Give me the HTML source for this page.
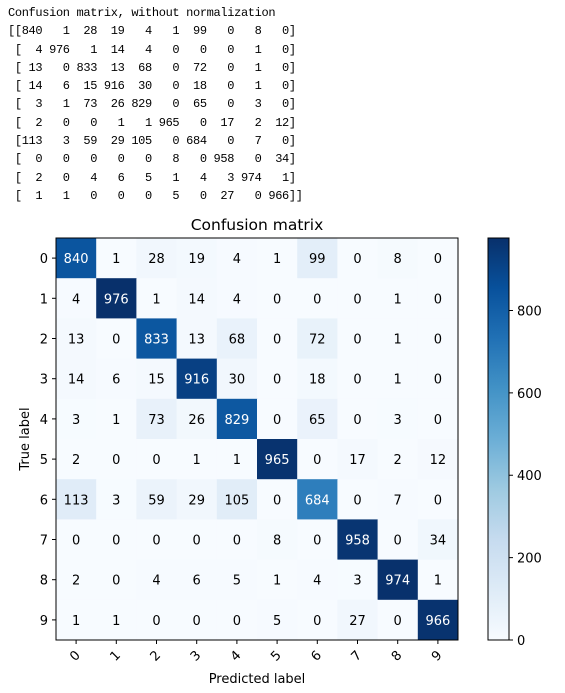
<!DOCTYPE html>
<html><head><meta charset="utf-8"><style>
body{margin:0;background:#fff;width:565px;height:693px;overflow:hidden;position:relative}
pre{position:absolute;left:8px;top:4px;margin:0;font-family:"Liberation Mono",monospace;font-size:12px;line-height:18.3px;letter-spacing:-0.35px;color:#000}
svg{position:absolute;left:0;top:0}
text{font-family:"DejaVu Sans",sans-serif}
</style></head><body>
<pre>Confusion matrix, without normalization
[[840   1  28  19   4   1  99   0   8   0]
 [  4 976   1  14   4   0   0   0   1   0]
 [ 13   0 833  13  68   0  72   0   1   0]
 [ 14   6  15 916  30   0  18   0   1   0]
 [  3   1  73  26 829   0  65   0   3   0]
 [  2   0   0   1   1 965   0  17   2  12]
 [113   3  59  29 105   0 684   0   7   0]
 [  0   0   0   0   0   8   0 958   0  34]
 [  2   0   4   6   5   1   4   3 974   1]
 [  1   1   0   0   0   5   0  27   0 966]]</pre>
<svg id="c" width="565" height="693"></svg>
<script>
const classes=["0","1","2","3","4","5","6","7","8","9"];
const matrix=[
[840,1,28,19,4,1,99,0,8,0],
[4,976,1,14,4,0,0,0,1,0],
[13,0,833,13,68,0,72,0,1,0],
[14,6,15,916,30,0,18,0,1,0],
[3,1,73,26,829,0,65,0,3,0],
[2,0,0,1,1,965,0,17,2,12],
[113,3,59,29,105,0,684,0,7,0],
[0,0,0,0,0,8,0,958,0,34],
[2,0,4,6,5,1,4,3,974,1],
[1,1,0,0,0,5,0,27,0,966]];
const cbTicks=[0,200,400,600,800];
const NS="http://www.w3.org/2000/svg";
const svg=document.getElementById('c');
const L=56,T=238,W=402,H=402;
const vmax=Math.max(...matrix.flat());
const blues=[[247,251,255],[222,235,247],[198,219,239],[158,202,225],[107,174,214],[66,146,198],[33,113,181],[8,81,156],[8,48,107]];
function cmap(v){let t=Math.max(0,Math.min(1,v/vmax))*8;let i=Math.min(7,Math.floor(t)),f=t-i;const a=blues[i],b=blues[i+1];return `rgb(${a.map((x,k)=>Math.round(x+(b[k]-x)*f)).join(',')})`;}
function mk(tag,attrs,txt){const e=document.createElementNS(NS,tag);for(const k in attrs)e.setAttribute(k,attrs[k]);if(txt!==undefined)e.textContent=txt;svg.appendChild(e);return e;}
const n=classes.length,cw=W/n,ch=H/n;
const xs=i=>L+i*cw, ys=j=>T+j*ch;
matrix.forEach((row,r)=>row.forEach((v,c)=>{
 const rc=mk('rect',{x:xs(c),y:ys(r),width:cw+0.5,height:ch+0.5,fill:cmap(v)});
 
 
 const t=mk('text',{x:xs(c)+cw/2,y:ys(r)+ch/2+5,'text-anchor':'middle','font-size':'13',fill:v>vmax/2?'#fff':'#000'},v);
 
 
}));
const fr=mk('rect',{x:L,y:T,width:W,height:H,fill:'none',stroke:'#000','stroke-width':1});


classes.forEach((lab,i)=>{
 mk('line',{x1:L,x2:L-4,y1:ys(i)+ch/2,y2:ys(i)+ch/2,stroke:'#000'});
 const yl=mk('text',{x:L-8,y:ys(i)+ch/2+5,'text-anchor':'end','font-size':'13'},lab);
 
 
 mk('line',{x1:xs(i)+cw/2,x2:xs(i)+cw/2,y1:T+H,y2:T+H+4,stroke:'#000'});
 const cx=xs(i)+cw/2-1,cy=T+H+16;
 const xl=mk('text',{x:cx,y:cy+4,'text-anchor':'middle','font-size':'13',transform:`rotate(-45 ${cx} ${cy})`},lab);
 
 
});
const tt=mk('text',{x:L+W/2,y:230,'text-anchor':'middle','font-size':'15.5'},'Confusion matrix');


const xt=mk('text',{x:L+W/2,y:683,'text-anchor':'middle','font-size':'13'},'Predicted label');


const yt=mk('text',{x:29,y:T+H/2,'text-anchor':'middle','font-size':'13',transform:`rotate(-90 29 ${T+H/2})`},'True label');


const CX=488,CW=21;
const defs=mk('defs',{});
const g=document.createElementNS(NS,'linearGradient');g.setAttribute('id','gr');g.setAttribute('x1','0');g.setAttribute('y1','1');g.setAttribute('x2','0');g.setAttribute('y2','0');
blues.forEach((b,i)=>{const s=document.createElementNS(NS,'stop');s.setAttribute('offset',i/8);s.setAttribute('stop-color',`rgb(${b.join(',')})`);g.appendChild(s);});
defs.appendChild(g);
const cb=mk('rect',{x:CX,y:T,width:CW,height:H,fill:'url(#gr)',stroke:'#000','stroke-width':1});


cbTicks.forEach(v=>{const y=T+H-v/vmax*H;
 mk('line',{x1:CX+CW,x2:CX+CW+4,y1:y,y2:y,stroke:'#000'});
 const l=mk('text',{x:CX+CW+8,y:y+5,'font-size':'13'},v);
 
 
});
</script>
</body></html>
